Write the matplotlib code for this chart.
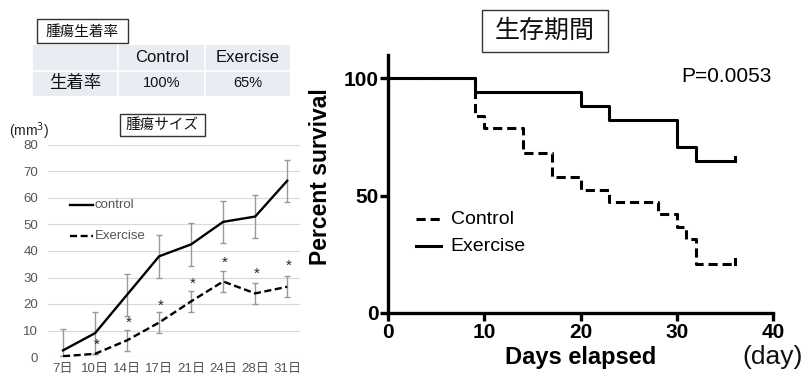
import numpy as np
import matplotlib
matplotlib.use("Agg")
import matplotlib.pyplot as plt
from matplotlib.patches import Rectangle

plt.rcParams['font.family'] = ['Liberation Sans', 'Noto Sans CJK JP', 'DejaVu Sans']

# tumour size data
days_lbl = ['7日', '10日', '14日', '17日', '21日', '24日', '28日', '31日']
ctrl_size = [2.5, 9, 23.5, 38, 42.5, 51, 53, 66.5]
ctrl_err = [8, 8, 8, 8, 8, 8, 8, 8]
ex_size = [0.3, 1.2, 6.3, 13, 21, 28.5, 24, 26.5]
ex_err = [0, 0, 4, 4, 4, 4, 4, 4]
star_y = [4.5, 13, 19.5, 27.5, 35.5, 31.5, 34.5]

# engraftment table
tbl_cols = ['Control', 'Exercise']
tbl_row = '生着率'
tbl_vals = ['100%', '65%']

# survival data
ex_t = [0, 9, 20, 23, 30, 32, 36]
ex_s = [100, 94.1, 88.2, 82.4, 70.6, 64.7, 64.7]
ct_t = [0, 9, 10, 14, 17, 20, 23, 28, 30, 31, 32, 36]
ct_s = [100, 84.2, 78.9, 68.4, 57.9, 52.6, 47.4, 42.1, 36.8, 31.6, 21.1, 21.1]

W, H = 804, 379
fig = plt.figure(figsize=(W / 100, H / 100), dpi=100)

def fr(x0, y0, x1, y1):
    return [x0 / W, 1 - y1 / H, (x1 - x0) / W, (y1 - y0) / H]

# overlay for table / boxes (pixel coords)
ov = fig.add_axes([0, 0, 1, 1])
ov.set_xlim(0, W)
ov.set_ylim(H, 0)
ov.axis('off')

# table
bg = '#E8ECF3'
ov.add_patch(Rectangle((33, 45), 257, 51, facecolor=bg, edgecolor='none'))
ov.plot([33, 290], [70.5, 70.5], color='white', lw=1.2)
for xv in [118, 205]:
    ov.plot([xv, xv], [45, 96], color='white', lw=1.2)
ov.add_patch(Rectangle((37, 19), 91, 24, facecolor='white', edgecolor='#333333', lw=1))
ov.text(82.5, 31.5, '腫瘍生着率', ha='center', va='center', fontsize=10.5,
        family=['Noto Sans CJK JP'], color='#111111')
for xc, t in zip([162, 248], tbl_cols):
    ov.text(xc, 58, t, ha='center', va='center', fontsize=12, color='#111111')
ov.text(75, 83, tbl_row, ha='center', va='center', fontsize=12.5,
        family=['Noto Sans CJK JP'], color='#111111')
for xc, t in zip([162, 248], tbl_vals):
    ov.text(xc, 83, t, ha='center', va='center', fontsize=10.5, color='#111111')

# tumour size chart
ax1 = fig.add_axes(fr(48, 145, 300, 357))
x = np.arange(len(days_lbl))
ax1.set_xlim(-0.47, 7.4)
ax1.set_ylim(0, 80)
ax1.set_yticks(range(0, 81, 10))
ax1.grid(axis='y', color='#D9D9D9', lw=0.8)
ax1.set_axisbelow(True)
for s in ax1.spines.values():
    s.set_visible(False)
ax1.tick_params(length=0, labelsize=9.5, colors='#555555', pad=7)
ax1.set_xticks(x)
ax1.set_xticklabels(days_lbl, fontsize=9.5)
ax1.tick_params(axis='x', pad=4)
ax1.errorbar(x, ctrl_size, yerr=ctrl_err, color='black', lw=1.7,
             ecolor='#999999', elinewidth=1, capsize=2.5, label='control')
ax1.errorbar(x, ex_size, yerr=ex_err, color='black', lw=1.7, ls=(0, (3, 1.5)),
             ecolor='#999999', elinewidth=1, capsize=2.5, label='Exercise')
for xi, yi in zip(x[1:], star_y):
    ax1.text(xi + 0.05, yi, '*', ha='center', va='center', fontsize=11, color='#222222')
ax1.plot([0.22, 0.95], [57.5, 57.5], color='black', lw=1.7, clip_on=False)
ax1.text(0.98, 57.5, 'control', va='center', fontsize=9.5, color='#555555')
ax1.plot([0.22, 0.95], [45.5, 45.5], color='black', lw=1.7, ls=(0, (3, 1.5)), clip_on=False)
ax1.text(0.98, 45.5, 'Exercise', va='center', fontsize=9.5, color='#555555')

ov.text(9, 131, '(mm$^3$)', ha='left', va='center', fontsize=10, color='#222222')
ov.add_patch(Rectangle((120, 114), 85, 22, facecolor='white', edgecolor='#333333', lw=1))
ov.text(162.5, 125, '腫瘍サイズ', ha='center', va='center', fontsize=10.5,
        family=['Noto Sans CJK JP'], color='#111111')

# survival chart
ax2 = fig.add_axes(fr(388, 55, 773, 313))
ax2.set_xlim(0, 40)
ax2.set_ylim(0, 110)
ax2.step(ex_t, ex_s, where='post', color='black', lw=2.2, label='Exercise')
ax2.step(ct_t, ct_s, where='post', color='black', lw=2.2, ls=(0, (3, 1.6)), label='Control')
ax2.plot([ex_t[-1], ex_t[-1]], [ex_s[-1], ex_s[-1] + 2], color='black', lw=2.2)
ax2.plot([ct_t[-1], ct_t[-1]], [ct_s[-1], ct_s[-1] + 2], color='black', lw=2.2)
ax2.spines['top'].set_visible(False)
ax2.spines['right'].set_visible(False)
ax2.spines['left'].set_linewidth(2.4)
ax2.spines['bottom'].set_linewidth(2.4)
ax2.spines['bottom'].set_bounds(0, 40)
ax2.set_xticks([0, 10, 20, 30, 40])
ax2.set_yticks([0, 50, 100])
ax2.tick_params(width=2.4, length=6, labelsize=15, pad=1)
for lb in ax2.get_xticklabels() + ax2.get_yticklabels():
    lb.set_fontweight('bold')
ax2.set_xlabel('Days elapsed', fontsize=17, fontweight='bold', labelpad=3)
ax2.set_ylabel('Percent survival', fontsize=16.5, fontweight='bold')
ax2.yaxis.set_label_coords(-0.145, 0.53)
ax2.text(39.9, 101, 'P=0.0053', ha='right', va='center', fontsize=15)

ax2.plot([2.9, 5.5], [40, 40], color='black', lw=2.2, ls=(0, (3, 1.6)))
ax2.text(6.5, 40, 'Control', va='center', fontsize=14)
ax2.plot([2.9, 5.5], [28.5, 28.5], color='black', lw=2.2)
ax2.text(6.5, 28.5, 'Exercise', va='center', fontsize=14)

ov.text(803, 357, '(day)', ha='right', va='center', fontsize=19, color='#111111')
ov.add_patch(Rectangle((482, 10), 126, 42, facecolor='white', edgecolor='#333333', lw=1))
ov.text(545, 31, '生存期間', ha='center', va='center', fontsize=18,
        family=['Noto Sans CJK JP'], color='#111111')

fig.savefig('out.png', dpi=100)
